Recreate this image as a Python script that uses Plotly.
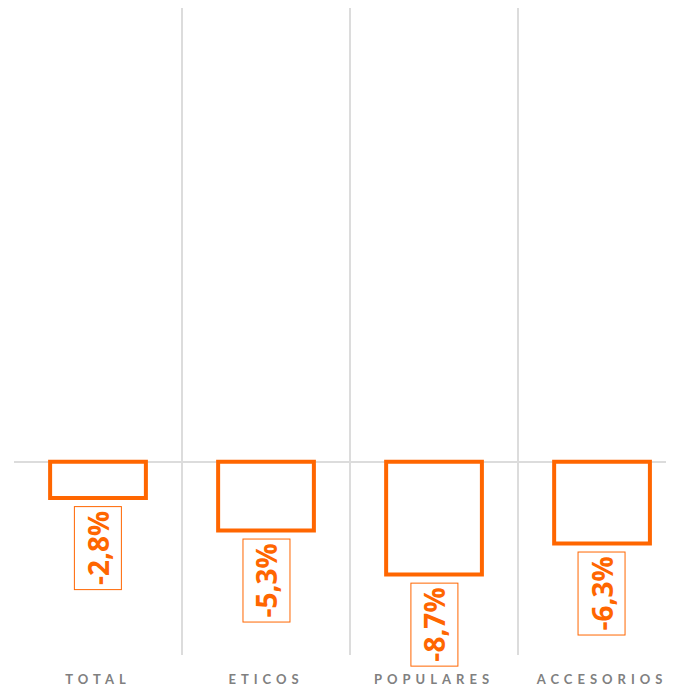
import plotly.graph_objects as go

categories = ["TOTAL", "ETICOS", "POPULARES", "ACCESORIOS"]
values = [-2.8, -5.3, -8.7, -6.3]
labels = ["-2,8%", "-5,3%", "-8,7%", "-6,3%"]

ORANGE = "#FF6600"
GRID = "#DCDCDC"
FONT = "Lato, Open Sans, sans-serif"
LBL_FONT = "Open Sans, sans-serif"

fig = go.Figure()
fig.add_trace(go.Bar(
    x=categories,
    y=values,
    width=0.57,
    marker=dict(color="white", line=dict(color=ORANGE, width=4)),
    hoverinfo="skip",
))

for c, v, t in zip(categories, values, labels):
    fig.add_annotation(
        x=c, y=v, xref="x", yref="y",
        text="<b>%s</b>" % t,
        showarrow=False,
        textangle=-90,
        yanchor="top",
        xanchor="center",
        yshift=-8,
        font=dict(family=LBL_FONT, size=28, color=ORANGE, weight="bold"),
        bgcolor="white",
        bordercolor=ORANGE,
        borderwidth=1,
        borderpad=4,
    )

fig.update_layout(
    width=674, height=700,
    margin=dict(l=6, r=0, t=0, b=53),
    paper_bgcolor="white",
    plot_bgcolor="white",
    showlegend=False,
)
fig.update_xaxes(
    type="category",
    range=[-0.5, 3.476],
    tickson="boundaries",
    showgrid=True,
    gridcolor=GRID,
    gridwidth=1.6,
    ticks="",
    ticklabelstandoff=15,
    showline=False,
    zeroline=False,
    tickfont=dict(family=FONT, size=13, color="#808080", weight="bold"),
)
fig.update_yaxes(
    range=[-14.9, 35],
    showgrid=False,
    zeroline=True,
    zerolinecolor=GRID,
    zerolinewidth=1.6,
    showticklabels=False,
    ticks="",
)

post = """
function spaceTicks(){
  document.querySelectorAll('.xtick text').forEach(function(t){
    t.style.letterSpacing='5px';
  });
}
spaceTicks();
var gd = document.getElementById('{plot_id}');
if (gd && gd.on) { gd.on('plotly_afterplot', spaceTicks); }
"""

fig.write_html("out.html", post_script=post)
